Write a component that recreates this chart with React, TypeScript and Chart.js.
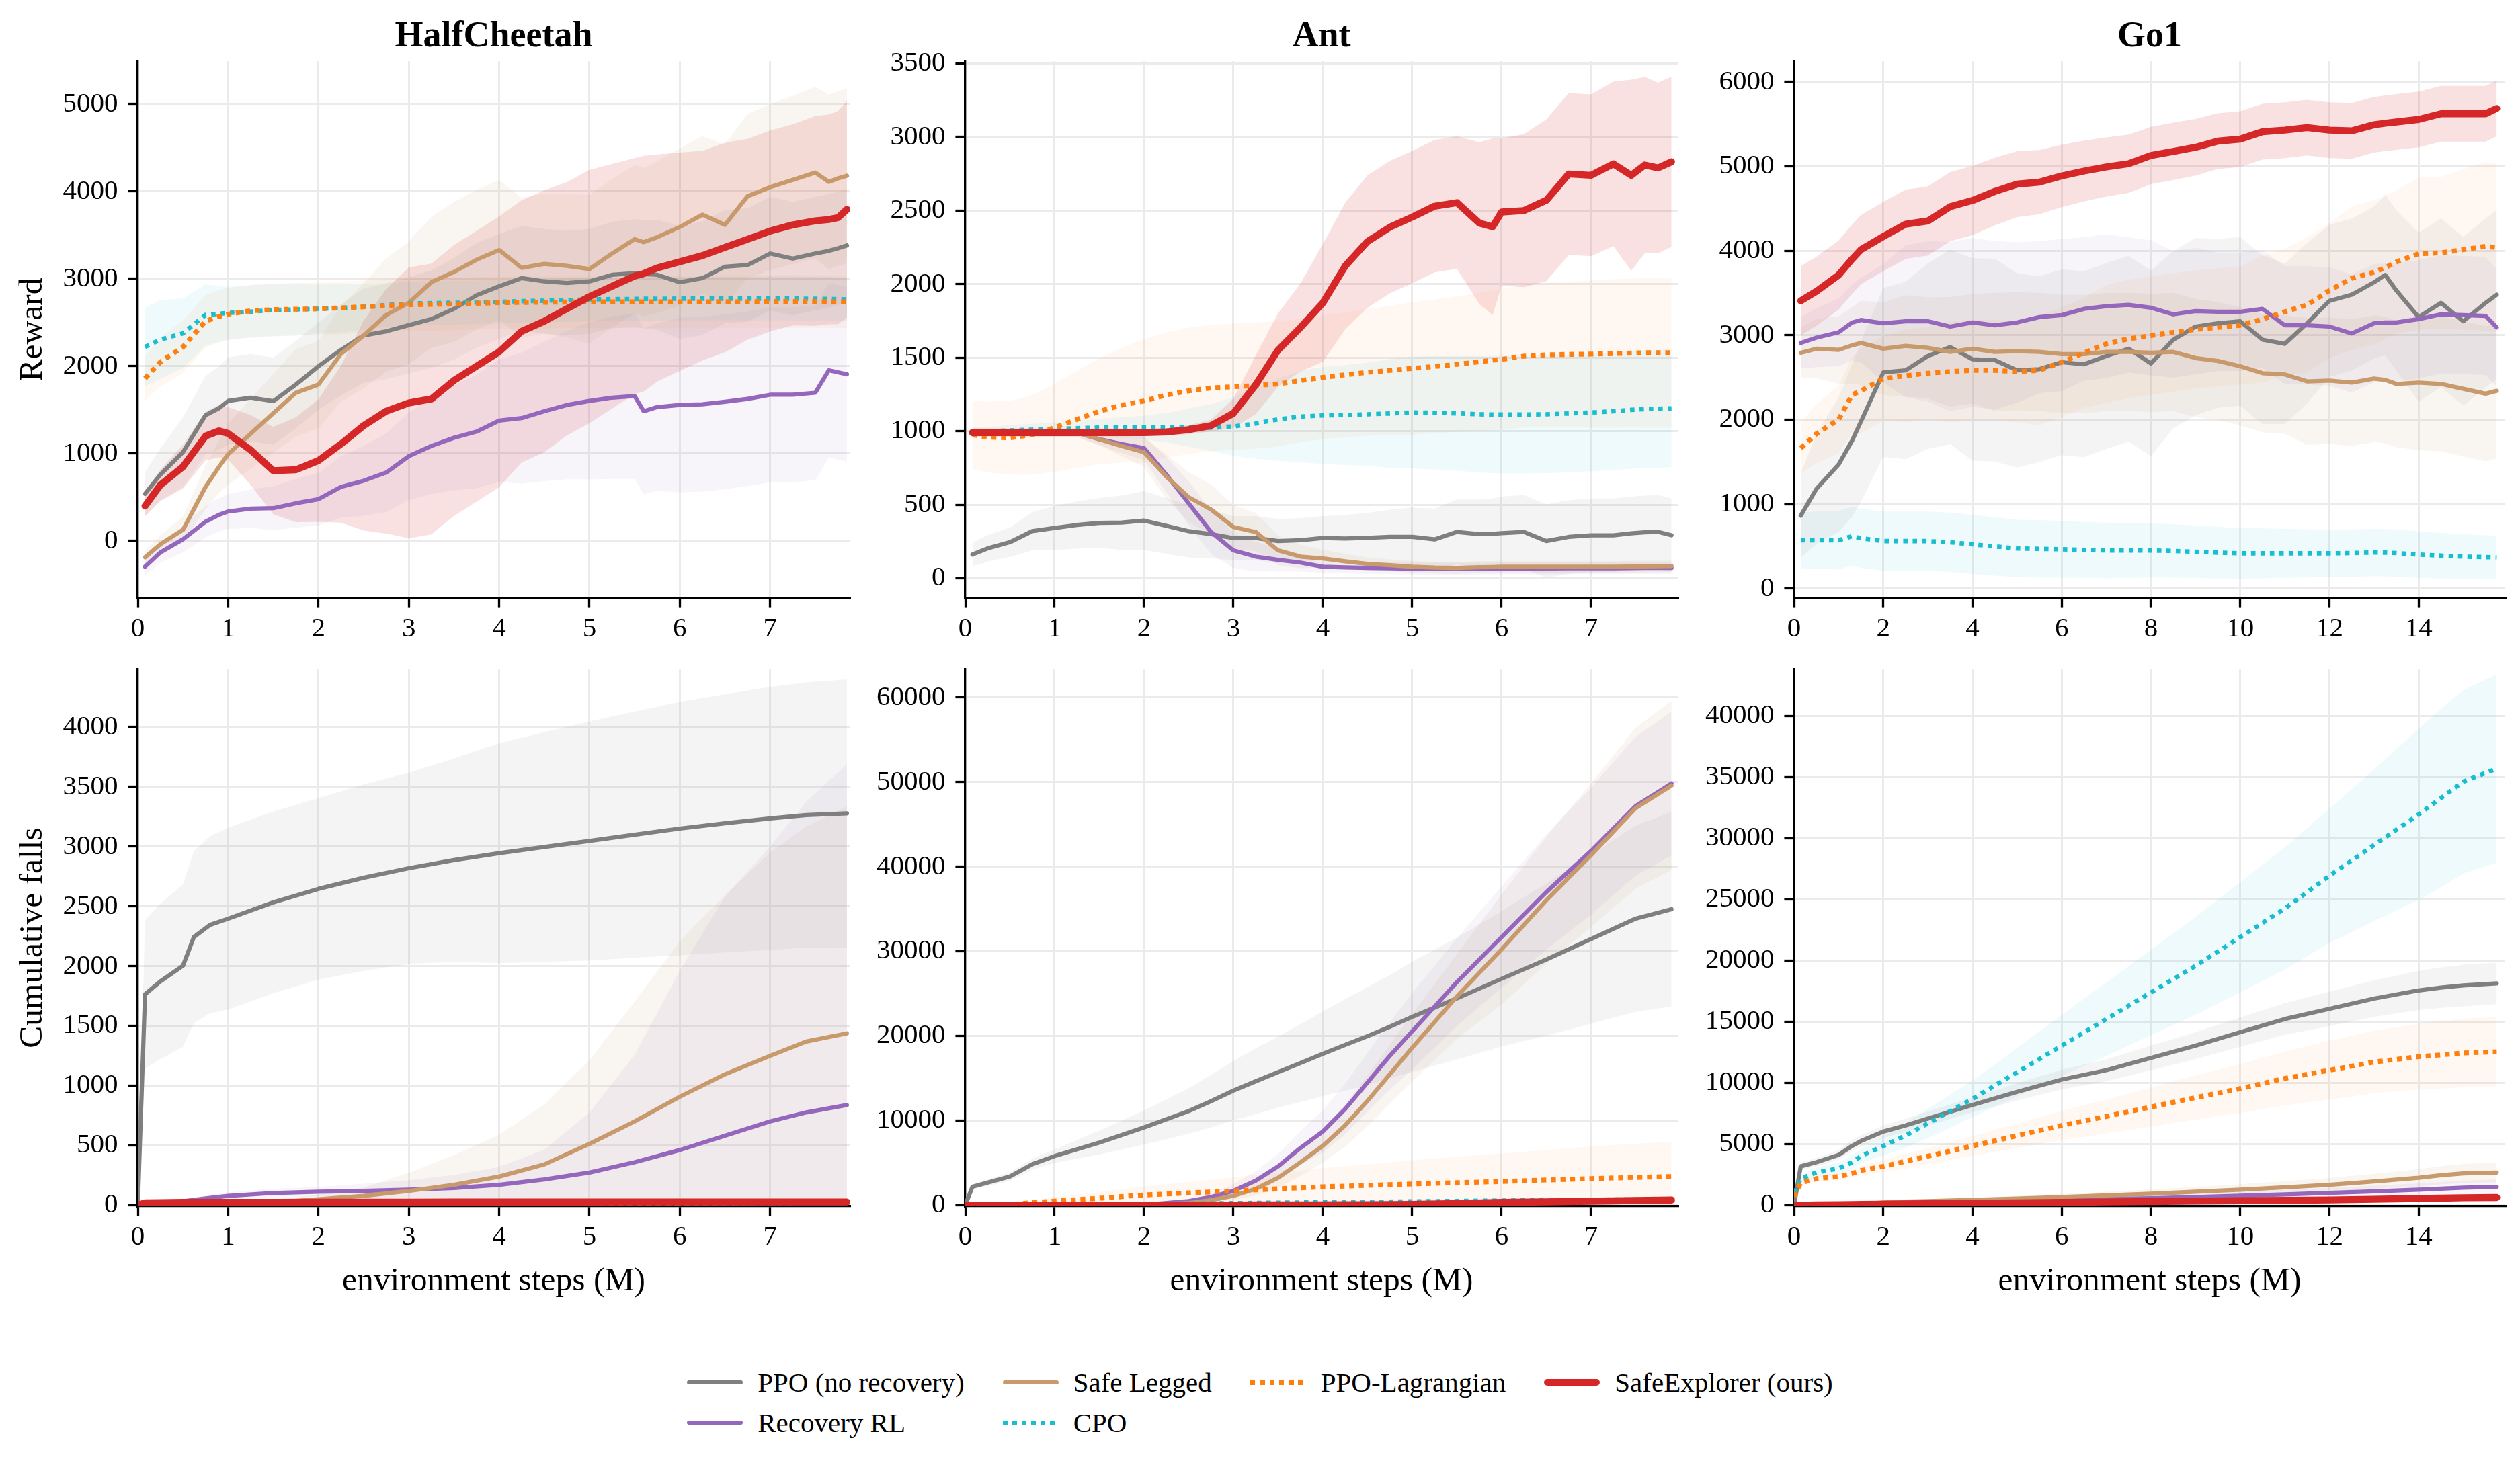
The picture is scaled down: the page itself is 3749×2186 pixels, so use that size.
import React, { useEffect, useRef } from 'react';
import { Chart, registerables } from 'chart.js';

Chart.register(...registerables);

const FONT = "'Liberation Serif', 'Times New Roman', serif";

// ---------------- tick labels ----------------
const xTicksShort = [0, 1, 2, 3, 4, 5, 6, 7];
const xTicksGo1 = [0, 2, 4, 6, 8, 10, 12, 14];
const yTicksHCReward = [0, 1000, 2000, 3000, 4000, 5000];
const yTicksAntReward = [0, 500, 1000, 1500, 2000, 2500, 3000, 3500];
const yTicksGo1Reward = [0, 1000, 2000, 3000, 4000, 5000, 6000];
const yTicksHCFalls = [0, 500, 1000, 1500, 2000, 2500, 3000, 3500, 4000];
const yTicksAntFalls = [0, 10000, 20000, 30000, 40000, 50000, 60000];
const yTicksGo1Falls = [0, 5000, 10000, 15000, 20000, 25000, 30000, 35000, 40000];

const envNames = ['HalfCheetah', 'Ant', 'Go1'];
const seriesNames = ['PPO (no recovery)', 'Recovery RL', 'Safe Legged', 'CPO', 'PPO-Lagrangian', 'SafeExplorer (ours)'];

// ---------------- HalfCheetah reward ----------------
const hcRx = [0.08, 0.25, 0.5, 0.75, 0.9, 1.0, 1.25, 1.5, 1.75, 2.0, 2.25, 2.5, 2.75, 3.0, 3.25, 3.5, 3.75, 4.0, 4.25, 4.5, 4.75, 5.0, 5.25, 5.5, 5.6, 5.75, 6.0, 6.25, 6.5, 6.75, 7.0, 7.25, 7.5, 7.65, 7.75, 7.85];
const hcR_ppo = [539, 760, 1017, 1439, 1520, 1603, 1640, 1600, 1790, 2000, 2188, 2352, 2399, 2470, 2540, 2657, 2812, 2915, 3008, 2971, 2952, 2971, 3046, 3065, 3055, 3046, 2961, 3008, 3140, 3158, 3290, 3233, 3290, 3320, 3350, 3383];
const hcR_ppoSd = [250, 300, 400, 450, 480, 500, 500, 500, 500, 500, 520, 540, 550, 550, 560, 580, 600, 600, 600, 600, 600, 600, 610, 620, 620, 630, 650, 650, 650, 650, 650, 650, 650, 650, 650, 650];
const hcR_rec = [-295, -131, 19, 220, 300, 337, 370, 375, 431, 478, 619, 689, 783, 970, 1087, 1181, 1251, 1378, 1406, 1485, 1556, 1603, 1640, 1659, 1485, 1532, 1556, 1565, 1593, 1626, 1673, 1673, 1696, 1954, 1930, 1907];
const hcR_recSd = [100, 120, 150, 180, 190, 200, 220, 250, 280, 300, 350, 400, 450, 500, 550, 600, 650, 700, 750, 800, 850, 900, 930, 950, 950, 960, 1000, 1000, 1000, 1000, 1000, 1000, 1000, 1000, 1000, 1000];
const hcR_safe = [-187, -37, 127, 619, 850, 994, 1228, 1462, 1696, 1790, 2142, 2352, 2587, 2727, 2962, 3079, 3219, 3330, 3126, 3172, 3149, 3112, 3290, 3454, 3420, 3477, 3594, 3735, 3618, 3946, 4049, 4133, 4217, 4110, 4150, 4180];
const hcR_safeSd = [80, 100, 150, 250, 300, 350, 400, 450, 500, 500, 550, 600, 650, 700, 750, 800, 800, 800, 800, 800, 820, 850, 850, 850, 850, 870, 900, 900, 920, 940, 950, 960, 980, 1000, 1000, 1000];
const hcR_cpo = [2221, 2305, 2376, 2587, 2600, 2610, 2624, 2643, 2650, 2657, 2668, 2680, 2700, 2718, 2722, 2726, 2730, 2737, 2745, 2750, 2758, 2765, 2768, 2770, 2772, 2772, 2774, 2774, 2774, 2774, 2774, 2774, 2772, 2770, 2768, 2765];
const hcR_cpoSd = [450, 450, 400, 350, 320, 300, 300, 300, 300, 280, 280, 260, 250, 250, 250, 250, 250, 250, 250, 250, 250, 250, 250, 250, 250, 250, 250, 250, 250, 250, 250, 250, 250, 250, 250, 250];
const hcR_lag = [1860, 2048, 2221, 2516, 2570, 2596, 2634, 2648, 2652, 2657, 2668, 2680, 2692, 2704, 2708, 2712, 2720, 2727, 2730, 2732, 2735, 2737, 2737, 2737, 2737, 2737, 2737, 2737, 2737, 2738, 2741, 2741, 2740, 2738, 2738, 2737];
const hcR_lagSd = [250, 280, 300, 300, 300, 300, 300, 300, 300, 300, 300, 300, 300, 300, 300, 300, 300, 300, 300, 300, 300, 300, 300, 300, 300, 300, 300, 300, 300, 300, 300, 300, 300, 300, 300, 300];
const hcR_ours = [400, 640, 850, 1200, 1260, 1230, 1040, 805, 815, 920, 1110, 1320, 1485, 1580, 1625, 1837, 2000, 2165, 2400, 2516, 2657, 2797, 2915, 3032, 3060, 3125, 3196, 3266, 3360, 3453, 3547, 3618, 3664, 3680, 3700, 3795];
const hcR_oursSd = [120, 180, 250, 280, 300, 300, 400, 500, 600, 700, 900, 1200, 1400, 1550, 1550, 1550, 1550, 1550, 1500, 1500, 1450, 1450, 1400, 1350, 1350, 1300, 1250, 1200, 1200, 1150, 1150, 1150, 1200, 1200, 1220, 1240];

// ---------------- Ant reward ----------------
const antRx = [0.08, 0.25, 0.5, 0.75, 1.0, 1.25, 1.5, 1.75, 2.0, 2.25, 2.5, 2.75, 3.0, 3.25, 3.5, 3.75, 4.0, 4.25, 4.5, 4.75, 5.0, 5.25, 5.5, 5.75, 5.9, 6.0, 6.25, 6.5, 6.75, 7.0, 7.25, 7.45, 7.6, 7.75, 7.9];
const antR_ppo = [161, 203, 245, 320, 342, 362, 376, 378, 392, 356, 320, 300, 273, 273, 253, 259, 273, 270, 275, 281, 281, 264, 315, 300, 302, 306, 315, 253, 281, 292, 292, 305, 312, 315, 292];
const antR_ppoSd = [80, 90, 100, 130, 150, 160, 170, 185, 200, 190, 180, 165, 150, 150, 150, 150, 150, 160, 170, 185, 200, 210, 220, 235, 240, 250, 250, 250, 250, 250, 250, 250, 250, 250, 250];
const antR_rec = [990, 990, 990, 990, 990, 990, 945, 912, 885, 704, 509, 314, 189, 147, 125, 106, 78, 74, 70, 68, 66, 65, 65, 66, 66, 67, 67, 67, 68, 68, 68, 69, 70, 70, 70];
const antR_recSd = [30, 30, 30, 30, 30, 30, 40, 60, 80, 120, 150, 150, 120, 100, 80, 60, 40, 40, 40, 40, 40, 40, 40, 40, 40, 40, 40, 40, 40, 40, 40, 40, 40, 40, 40];
const antR_safe = [990, 990, 990, 990, 990, 990, 945, 899, 857, 690, 551, 467, 348, 314, 189, 147, 134, 115, 97, 88, 78, 72, 70, 75, 76, 78, 78, 78, 78, 78, 78, 79, 80, 81, 83];
const antR_safeSd = [30, 30, 30, 30, 30, 30, 40, 70, 100, 150, 170, 170, 150, 130, 100, 80, 60, 50, 45, 40, 40, 40, 40, 40, 40, 40, 40, 40, 40, 40, 40, 40, 40, 40, 40];
const antR_cpo = [1000, 1000, 1005, 1010, 1015, 1020, 1024, 1024, 1024, 1024, 1024, 1024, 1032, 1052, 1080, 1099, 1107, 1110, 1115, 1120, 1127, 1125, 1121, 1115, 1113, 1113, 1113, 1115, 1120, 1127, 1135, 1145, 1150, 1152, 1155];
const antR_cpoSd = [30, 30, 35, 40, 45, 50, 60, 70, 80, 100, 130, 160, 200, 240, 280, 310, 330, 340, 350, 370, 380, 385, 390, 395, 398, 400, 400, 400, 400, 400, 400, 400, 400, 400, 400];
const antR_lag = [975, 960, 955, 975, 1024, 1080, 1135, 1177, 1205, 1246, 1274, 1294, 1302, 1310, 1321, 1344, 1366, 1383, 1400, 1413, 1427, 1440, 1455, 1472, 1483, 1488, 1510, 1519, 1522, 1524, 1528, 1531, 1533, 1533, 1533];
const antR_lagSd = [230, 240, 250, 270, 300, 330, 360, 390, 420, 425, 430, 430, 430, 430, 425, 420, 420, 425, 430, 440, 450, 455, 460, 470, 475, 480, 485, 490, 495, 500, 505, 505, 510, 510, 510];
const antR_ours = [990, 990, 990, 990, 990, 990, 990, 990, 990, 995, 1010, 1038, 1121, 1316, 1552, 1705, 1872, 2123, 2290, 2387, 2456, 2530, 2554, 2415, 2390, 2490, 2500, 2570, 2749, 2740, 2818, 2740, 2810, 2790, 2832];
const antR_oursSd = [25, 25, 25, 25, 25, 25, 25, 25, 25, 25, 30, 40, 100, 200, 250, 300, 400, 430, 450, 450, 450, 450, 450, 550, 600, 500, 520, 550, 550, 550, 560, 650, 600, 580, 580];

// ---------------- Go1 reward ----------------
const go1Rx = [0.15, 0.5, 1.0, 1.3, 1.5, 2.0, 2.5, 3.0, 3.5, 4.0, 4.5, 5.0, 5.5, 6.0, 6.5, 7.0, 7.5, 8.0, 8.5, 9.0, 9.5, 10.0, 10.5, 11.0, 11.5, 12.0, 12.5, 13.0, 13.25, 13.5, 14.0, 14.5, 15.0, 15.5, 15.75];
const go1R_ppo = [863, 1178, 1469, 1750, 1978, 2559, 2583, 2753, 2860, 2714, 2705, 2583, 2598, 2680, 2656, 2753, 2840, 2666, 2947, 3102, 3141, 3165, 2947, 2898, 3141, 3407, 3480, 3626, 3713, 3529, 3214, 3383, 3165, 3383, 3480];
const go1R_ppoSd = [500, 650, 800, 900, 950, 1000, 1050, 1100, 1150, 1200, 1200, 1150, 1100, 1100, 1100, 1100, 1100, 1100, 1050, 1050, 1000, 1000, 1000, 950, 950, 900, 900, 900, 950, 950, 1000, 1000, 1000, 1000, 1000];
const go1R_rec = [2908, 2971, 3034, 3150, 3180, 3141, 3165, 3165, 3102, 3151, 3117, 3151, 3214, 3238, 3311, 3344, 3359, 3325, 3247, 3286, 3277, 3277, 3311, 3117, 3117, 3102, 3020, 3141, 3150, 3151, 3190, 3247, 3238, 3228, 3092];
const go1R_recSd = [300, 350, 400, 450, 500, 700, 900, 950, 1000, 1000, 1000, 950, 900, 900, 850, 850, 800, 800, 750, 750, 700, 700, 700, 700, 700, 700, 700, 700, 700, 700, 700, 700, 700, 700, 700];
const go1R_safe = [2792, 2840, 2826, 2880, 2908, 2840, 2874, 2850, 2802, 2840, 2802, 2811, 2802, 2777, 2777, 2802, 2802, 2792, 2802, 2729, 2695, 2632, 2550, 2535, 2453, 2462, 2438, 2486, 2470, 2423, 2438, 2423, 2365, 2307, 2341];
const go1R_safeSd = [300, 350, 400, 450, 500, 550, 600, 600, 650, 650, 700, 700, 700, 700, 700, 700, 700, 700, 700, 700, 700, 700, 700, 700, 750, 750, 750, 750, 750, 750, 800, 800, 800, 800, 800];
const go1R_cpo = [572, 572, 572, 620, 596, 562, 562, 562, 548, 523, 499, 475, 470, 465, 458, 451, 451, 451, 445, 436, 425, 417, 417, 417, 417, 417, 420, 427, 425, 420, 402, 390, 378, 372, 368];
const go1R_cpoSd = [330, 340, 345, 350, 350, 350, 350, 350, 350, 350, 345, 340, 340, 335, 330, 330, 325, 320, 315, 310, 305, 300, 295, 290, 285, 280, 280, 280, 280, 280, 275, 270, 265, 260, 260];
const go1R_lag = [1662, 1832, 2002, 2293, 2341, 2486, 2520, 2550, 2569, 2583, 2583, 2569, 2583, 2680, 2792, 2898, 2957, 2995, 3034, 3068, 3092, 3117, 3190, 3277, 3359, 3529, 3674, 3747, 3800, 3868, 3965, 3975, 4013, 4052, 4038];
const go1R_lagSd = [300, 350, 400, 450, 500, 500, 550, 550, 600, 600, 600, 600, 650, 650, 650, 700, 700, 700, 700, 700, 700, 700, 750, 750, 800, 800, 850, 850, 850, 850, 900, 900, 950, 1000, 1000];
const go1R_ours = [3407, 3519, 3713, 3900, 4013, 4168, 4314, 4353, 4522, 4595, 4702, 4789, 4813, 4886, 4944, 4992, 5031, 5128, 5176, 5225, 5298, 5322, 5409, 5428, 5458, 5428, 5419, 5492, 5510, 5525, 5555, 5622, 5622, 5622, 5685];
const go1R_oursSd = [410, 410, 410, 410, 410, 410, 410, 410, 410, 410, 400, 390, 380, 370, 360, 350, 345, 340, 340, 335, 330, 330, 330, 330, 330, 330, 330, 330, 330, 330, 330, 330, 330, 330, 330];

// ---------------- HalfCheetah cumulative falls ----------------
const hcFx = [0, 0.08, 0.25, 0.5, 0.62, 0.8, 1.0, 1.5, 2.0, 2.5, 3.0, 3.5, 4.0, 4.5, 5.0, 5.5, 6.0, 6.5, 7.0, 7.4, 7.85];
const hcF_ppo = [0, 1764, 1873, 2004, 2243, 2346, 2397, 2534, 2647, 2740, 2819, 2887, 2945, 2997, 3048, 3100, 3151, 3195, 3236, 3264, 3278];
const hcF_ppoSd = [0, 620, 650, 680, 720, 740, 760, 760, 760, 780, 800, 850, 920, 960, 1000, 1030, 1060, 1080, 1100, 1110, 1120];
const hcF_rec = [0, 3, 10, 34, 45, 62, 79, 103, 113, 120, 130, 144, 171, 216, 274, 360, 462, 582, 702, 777, 839];
const hcF_recSd = [0, 3, 8, 15, 20, 25, 30, 35, 40, 60, 80, 110, 150, 250, 500, 900, 1500, 2000, 2300, 2600, 2850];
const hcF_safe = [0, 0, 2, 5, 6, 8, 10, 24, 51, 79, 120, 171, 240, 342, 514, 702, 908, 1096, 1250, 1370, 1438];
const hcF_safeSd = [0, 0, 2, 5, 6, 8, 10, 20, 40, 70, 150, 250, 350, 500, 700, 1000, 1300, 1500, 1700, 1800, 1900];
const hcF_cpo = [0, 3, 4, 6, 6, 7, 8, 9, 10, 11, 12, 13, 14, 15, 16, 17, 18, 18, 19, 20, 20];
const hcF_cpoSd = [0, 2, 2, 3, 3, 3, 4, 4, 5, 5, 6, 6, 7, 7, 8, 8, 9, 9, 10, 10, 10];
const hcF_lag = [0, 4, 5, 7, 8, 9, 10, 11, 12, 13, 14, 15, 16, 17, 18, 19, 20, 21, 22, 22, 23];
const hcF_lagSd = [0, 2, 2, 3, 3, 3, 4, 4, 5, 5, 6, 6, 7, 7, 8, 8, 9, 9, 10, 10, 10];
const hcF_ours = [0, 20, 22, 24, 24, 25, 25, 25, 26, 26, 26, 27, 27, 27, 27, 28, 28, 28, 28, 28, 28];
const hcF_oursSd = [0, 4, 4, 5, 5, 5, 5, 5, 5, 5, 5, 5, 5, 5, 5, 5, 5, 5, 5, 5, 5];

// ---------------- Ant cumulative falls ----------------
const antFx = [0, 0.08, 0.5, 0.75, 1.0, 1.5, 2.0, 2.5, 2.75, 3.0, 3.25, 3.5, 3.75, 4.0, 4.25, 4.5, 4.75, 5.0, 5.5, 6.0, 6.5, 7.0, 7.5, 7.9];
const antF_ppo = [0, 2178, 3387, 4839, 5807, 7404, 9194, 11130, 12300, 13550, 14650, 15727, 16800, 17904, 18950, 19985, 21100, 22260, 24437, 26760, 29034, 31454, 33873, 34986];
const antF_ppoSd = [0, 300, 500, 650, 800, 1400, 2000, 2700, 3100, 3500, 3900, 4200, 4600, 5000, 5400, 5800, 6100, 6500, 7200, 8000, 9000, 10000, 11000, 11500];
const antF_rec = [0, 0, 0, 0, 0, 20, 50, 484, 968, 1694, 2903, 4597, 6775, 8710, 11372, 14517, 17662, 20566, 26373, 31695, 37018, 41857, 47180, 49842];
const antF_recSd = [0, 0, 0, 0, 0, 20, 50, 200, 450, 800, 1100, 1500, 2000, 2500, 3000, 3500, 4000, 4500, 5200, 6000, 6800, 7500, 8200, 8500];
const antF_safe = [0, 0, 0, 0, 0, 10, 30, 242, 600, 1113, 1936, 3242, 5081, 7016, 9436, 12339, 15485, 18630, 24679, 30244, 36050, 41373, 46938, 49600];
const antF_safeSd = [0, 0, 0, 0, 0, 10, 30, 150, 300, 500, 800, 1200, 1600, 2000, 2500, 3000, 3500, 4000, 5000, 6500, 7500, 8500, 9500, 10000];
const antF_cpo = [0, 5, 30, 50, 70, 100, 150, 200, 220, 250, 270, 300, 320, 350, 380, 400, 420, 450, 500, 550, 600, 650, 680, 700];
const antF_cpoSd = [0, 5, 20, 30, 40, 60, 80, 100, 110, 120, 130, 140, 150, 160, 170, 180, 190, 200, 220, 240, 260, 280, 300, 300];
const antF_lag = [0, 10, 97, 300, 484, 823, 1210, 1452, 1570, 1694, 1815, 1936, 2057, 2178, 2260, 2350, 2430, 2516, 2660, 2807, 2980, 3145, 3290, 3387];
const antF_lagSd = [0, 10, 100, 300, 500, 750, 1000, 1300, 1450, 1600, 1750, 1900, 2050, 2200, 2350, 2500, 2650, 2800, 3050, 3300, 3550, 3800, 4000, 4100];
const antF_ours = [0, 0, 5, 8, 10, 15, 20, 25, 28, 30, 35, 40, 45, 50, 60, 70, 85, 100, 200, 339, 400, 480, 560, 620];
const antF_oursSd = [0, 0, 5, 5, 5, 8, 10, 12, 14, 15, 18, 20, 22, 25, 30, 35, 40, 50, 80, 120, 140, 160, 180, 200];

// ---------------- Go1 cumulative falls ----------------
const go1Fx = [0, 0.15, 0.5, 1.0, 1.3, 1.5, 2.0, 2.5, 3.0, 4.0, 5.0, 6.0, 7.0, 8.0, 9.0, 10.0, 11.0, 12.0, 13.0, 14.0, 14.5, 15.0, 15.75];
const go1F_ppo = [0, 3180, 3514, 4117, 4853, 5255, 6025, 6527, 7096, 8200, 9271, 10275, 11045, 12049, 13053, 14158, 15229, 16066, 16902, 17572, 17800, 17974, 18141];
const go1F_ppoSd = [0, 300, 350, 400, 450, 480, 500, 550, 580, 600, 700, 800, 900, 1000, 1100, 1200, 1300, 1400, 1500, 1600, 1650, 1700, 1700];
const go1F_rec = [0, 10, 30, 60, 80, 90, 130, 170, 210, 335, 390, 450, 510, 569, 670, 770, 890, 1004, 1140, 1272, 1360, 1440, 1506];
const go1F_recSd = [0, 10, 20, 30, 40, 45, 60, 80, 100, 140, 170, 200, 230, 260, 300, 340, 380, 420, 470, 520, 550, 580, 600];
const go1F_safe = [0, 20, 40, 70, 90, 100, 234, 290, 335, 435, 550, 669, 800, 937, 1100, 1272, 1470, 1674, 1950, 2243, 2450, 2600, 2678];
const go1F_safeSd = [0, 20, 30, 50, 60, 70, 100, 120, 140, 180, 220, 260, 300, 350, 400, 450, 500, 550, 620, 700, 750, 780, 800];
const go1F_cpo = [1000, 2176, 2678, 3012, 3500, 4016, 4853, 5700, 6694, 8702, 10878, 13053, 15229, 17404, 19580, 21923, 24266, 26943, 29454, 31964, 33303, 34642, 35713];
const go1F_cpoSd = [200, 300, 400, 500, 550, 600, 800, 1000, 1200, 1500, 2000, 2500, 3000, 3500, 4000, 4500, 5000, 5500, 6200, 7000, 7300, 7500, 7700];
const go1F_lag = [700, 1841, 2176, 2343, 2600, 2845, 3180, 3600, 4016, 4853, 5690, 6527, 7263, 8033, 8803, 9539, 10376, 11045, 11715, 12150, 12300, 12451, 12552];
const go1F_lagSd = [100, 200, 250, 300, 350, 400, 500, 600, 650, 800, 1000, 1200, 1400, 1600, 1800, 2000, 2200, 2400, 2550, 2700, 2750, 2800, 2850];
const go1F_ours = [0, 10, 30, 50, 60, 70, 90, 110, 130, 167, 200, 235, 270, 301, 335, 370, 400, 435, 490, 550, 580, 610, 636];
const go1F_oursSd = [0, 5, 10, 15, 18, 20, 25, 30, 35, 45, 55, 65, 75, 85, 95, 105, 115, 125, 135, 145, 150, 150, 150];

// ---------------- styles ----------------
const STYLES = [
  { color: '#7f7f7f', rgb: '127,127,127', width: 6.25, dash: [] as number[], band: 0.085 },
  { color: '#9467bd', rgb: '148,103,189', width: 6.25, dash: [] as number[], band: 0.07 },
  { color: '#c8996b', rgb: '200,153,107', width: 6.25, dash: [] as number[], band: 0.1 },
  { color: '#17becf', rgb: '23,190,207', width: 6.6, dash: [6.6, 7.4], band: 0.07 },
  { color: '#ff7f0e', rgb: '255,127,14', width: 7.3, dash: [7.3, 7], band: 0.06 },
  { color: '#d62728', rgb: '214,39,40', width: 10.4, dash: [] as number[], band: 0.14 },
];

const PLOT_LEFT = [205, 1436, 2669];
const PLOT_W = [1059, 1060, 1058];
const Y_AXIS_W = 205;
const RIGHT_PAD = 22;
const PLOT_H = 799;

type PanelDef = {
  col: number;
  row: number;
  x: number[];
  ys: number[][];
  sds: number[][];
  xMax: number;
  xTicks: number[];
  yMin: number;
  yMax: number;
  yTicks: number[];
  yTitle?: string;
  xTitle?: string;
};

const PANELS: PanelDef[] = [
  { col: 0, row: 0, x: hcRx, ys: [hcR_ppo, hcR_rec, hcR_safe, hcR_cpo, hcR_lag, hcR_ours], sds: [hcR_ppoSd, hcR_recSd, hcR_safeSd, hcR_cpoSd, hcR_lagSd, hcR_oursSd], xMax: 7.88, xTicks: xTicksShort, yMin: -654, yMax: 5492, yTicks: yTicksHCReward, yTitle: 'Reward' },
  { col: 1, row: 0, x: antRx, ys: [antR_ppo, antR_rec, antR_safe, antR_cpo, antR_lag, antR_ours], sds: [antR_ppoSd, antR_recSd, antR_safeSd, antR_cpoSd, antR_lagSd, antR_oursSd], xMax: 7.97, xTicks: xTicksShort, yMin: -135, yMax: 3516, yTicks: yTicksAntReward },
  { col: 2, row: 0, x: go1Rx, ys: [go1R_ppo, go1R_rec, go1R_safe, go1R_cpo, go1R_lag, go1R_ours], sds: [go1R_ppoSd, go1R_recSd, go1R_safeSd, go1R_cpoSd, go1R_lagSd, go1R_oursSd], xMax: 15.94, xTicks: xTicksGo1, yMin: -113, yMax: 6245, yTicks: yTicksGo1Reward },
  { col: 0, row: 1, x: hcFx, ys: [hcF_ppo, hcF_rec, hcF_safe, hcF_cpo, hcF_lag, hcF_ours], sds: [hcF_ppoSd, hcF_recSd, hcF_safeSd, hcF_cpoSd, hcF_lagSd, hcF_oursSd], xMax: 7.88, xTicks: xTicksShort, yMin: -8, yMax: 4483, yTicks: yTicksHCFalls, yTitle: 'Cumulative falls', xTitle: 'environment steps (M)' },
  { col: 1, row: 1, x: antFx, ys: [antF_ppo, antF_rec, antF_safe, antF_cpo, antF_lag, antF_ours], sds: [antF_ppoSd, antF_recSd, antF_safeSd, antF_cpoSd, antF_lagSd, antF_oursSd], xMax: 7.97, xTicks: xTicksShort, yMin: -120, yMax: 63330, yTicks: yTicksAntFalls, xTitle: 'environment steps (M)' },
  { col: 2, row: 1, x: go1Fx, ys: [go1F_ppo, go1F_rec, go1F_safe, go1F_cpo, go1F_lag, go1F_ours], sds: [go1F_ppoSd, go1F_recSd, go1F_safeSd, go1F_cpoSd, go1F_lagSd, go1F_oursSd], xMax: 15.94, xTicks: xTicksGo1, yMin: -82, yMax: 43830, yTicks: yTicksGo1Falls, xTitle: 'environment steps (M)' },
];

const ROW_GEOM = [
  { top: 0, padTop: 91, xAxisH: 70 },
  { top: 940, padTop: 56, xAxisH: 145 },
];

const GRID_COLOR = '#ebebeb';

function Panel({ def }: { def: PanelDef }) {
  const ref = useRef<HTMLCanvasElement | null>(null);
  const geom = ROW_GEOM[def.row];
  const width = Y_AXIS_W + PLOT_W[def.col] + RIGHT_PAD;
  const height = geom.padTop + PLOT_H + geom.xAxisH;
  const left = PLOT_LEFT[def.col] - Y_AXIS_W;

  useEffect(() => {
    const canvas = ref.current;
    if (!canvas) return;
    const datasets: any[] = [];
    def.ys.forEach((ys, i) => {
      const st = STYLES[i];
      const sd = def.sds[i];
      datasets.push({
        data: def.x.map((x, j) => ({ x, y: ys[j] - sd[j] })),
        borderColor: 'rgba(0,0,0,0)', borderWidth: 0, pointRadius: 0, fill: false, order: 100, tension: 0,
      });
      datasets.push({
        data: def.x.map((x, j) => ({ x, y: ys[j] + sd[j] })),
        borderColor: 'rgba(0,0,0,0)', borderWidth: 0, pointRadius: 0, fill: '-1',
        backgroundColor: `rgba(${st.rgb},${st.band})`, order: 100, tension: 0,
      });
    });
    def.ys.forEach((ys, i) => {
      const st = STYLES[i];
      datasets.push({
        label: seriesNames[i],
        data: def.x.map((x, j) => ({ x, y: ys[j] })),
        borderColor: st.color, borderWidth: st.width, borderDash: st.dash,
        borderCapStyle: st.dash.length ? 'butt' : 'round', borderJoinStyle: 'round',
        pointRadius: 0, fill: false, tension: 0, order: 10 - i,
      });
    });

    const tickFont = { family: FONT, size: 41 };
    const titleFont = { family: FONT, size: 49.5 };
    const chart = new Chart(canvas, {
      type: 'line',
      data: { datasets },
      options: {
        responsive: false,
        animation: false,
        events: [],
        layout: { padding: { top: geom.padTop, left: 0, right: RIGHT_PAD, bottom: 0 } },
        plugins: { legend: { display: false }, tooltip: { enabled: false }, title: { display: false } },
        scales: {
          x: {
            type: 'linear', min: 0, max: def.xMax,
            afterBuildTicks: (s: any) => { s.ticks = def.xTicks.map((v) => ({ value: v })); },
            afterFit: (s: any) => { s.height = geom.xAxisH; },
            grid: { color: GRID_COLOR, lineWidth: 3, drawTicks: true, tickLength: 14.6, tickColor: '#000', tickWidth: 3.3 },
            border: { display: true, color: '#000', width: 3.3 },
            ticks: { color: '#000', font: tickFont, padding: 7, maxRotation: 0, autoSkip: false, callback: (v: any) => String(v) },
            title: { display: !!def.xTitle, text: def.xTitle || '', color: '#000', font: titleFont, padding: { top: 0, bottom: 3 } },
          },
          y: {
            type: 'linear', min: def.yMin, max: def.yMax,
            afterBuildTicks: (s: any) => { s.ticks = def.yTicks.map((v) => ({ value: v })); },
            afterFit: (s: any) => { s.width = Y_AXIS_W; },
            grid: { color: GRID_COLOR, lineWidth: 3, drawTicks: true, tickLength: 14.6, tickColor: '#000', tickWidth: 3.3 },
            border: { display: true, color: '#000', width: 3.3 },
            ticks: { color: '#000', font: tickFont, padding: 15, autoSkip: false, callback: (v: any) => String(v) },
            title: { display: !!def.yTitle, text: def.yTitle || '', color: '#000', font: titleFont, padding: { top: 19, bottom: 0 } },
          },
        },
      } as any,
    });
    return () => chart.destroy();
  }, []);

  return (
    <canvas
      ref={ref}
      width={width}
      height={height}
      style={{ position: 'absolute', left, top: geom.top, width, height }}
    />
  );
}

function LegendHandle({ i }: { i: number }) {
  const st = STYLES[i];
  const h = st.width;
  const bg = st.dash.length
    ? `repeating-linear-gradient(to right, ${st.color} 0px, ${st.color} ${st.dash[0]}px, rgba(0,0,0,0) ${st.dash[0]}px, rgba(0,0,0,0) ${st.dash[0] + st.dash[1]}px)`
    : st.color;
  return (
    <div
      style={{
        width: 83, height: h, background: bg, marginRight: 22, flex: '0 0 auto',
        borderRadius: st.dash.length ? 0 : h / 2,
      }}
    />
  );
}

const LEGEND_COLUMNS = [[0, 1], [2, 3], [4], [5]];

export default function App() {
  return (
    <div style={{ position: 'absolute', left: 0, top: 0, width: 3749, height: 2186, background: '#fff', overflow: 'hidden' }}>
      {envNames.map((name, c) => (
        <div
          key={name}
          style={{
            position: 'absolute', left: PLOT_LEFT[c], width: PLOT_W[c], top: 23.7, textAlign: 'center',
            fontFamily: FONT, fontWeight: 'bold', fontSize: 54, lineHeight: '54px', color: '#000', whiteSpace: 'nowrap',
          }}
        >
          {name}
        </div>
      ))}
      {PANELS.map((p, k) => <Panel key={k} def={p} />)}
      <div
        style={{
          position: 'absolute', left: 0, width: 3749, top: 2027, display: 'flex', justifyContent: 'center',
          gap: 57, fontFamily: FONT, fontSize: 41, color: '#000',
        }}
      >
        {LEGEND_COLUMNS.map((col, ci) => (
          <div key={ci} style={{ display: 'flex', flexDirection: 'column' }}>
            {col.map((i) => (
              <div key={i} style={{ display: 'flex', alignItems: 'center', height: 60, lineHeight: '60px', whiteSpace: 'nowrap' }}>
                <LegendHandle i={i} />
                <span>{seriesNames[i]}</span>
              </div>
            ))}
          </div>
        ))}
      </div>
    </div>
  );
}
